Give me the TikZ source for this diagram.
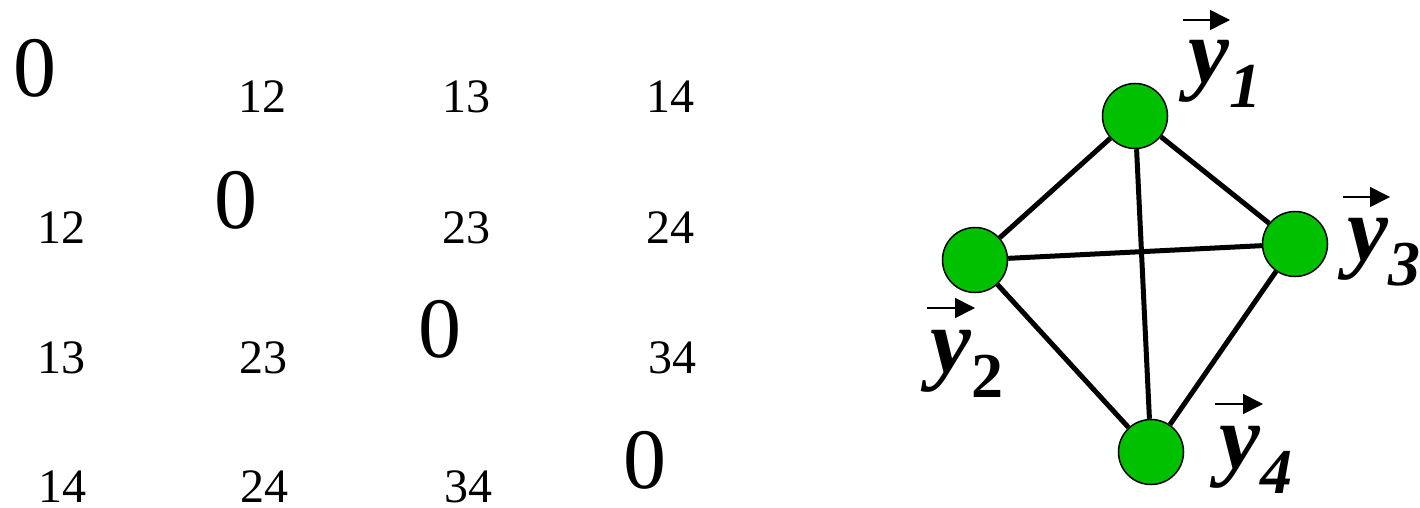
\documentclass[tikz,border=0pt]{standalone}
\usepackage{fontspec}
\setmainfont{Liberation Serif}
\usetikzlibrary{arrows.meta}
\definecolor{nodegreen}{HTML}{00C000}
\begin{document}
\begin{tikzpicture}[x=1pt,y=-1pt,
  small/.style={anchor=base,inner sep=0pt,font=\fontsize{48}{48}\selectfont},
  zero/.style={anchor=base,inner sep=0pt,font=\fontsize{86}{86}\selectfont},
  vert/.style={circle,draw=black,line width=1.5pt,fill=nodegreen,minimum size=65pt,inner sep=0pt},
  edge/.style={line width=5pt},
  lbl/.style={anchor=base west,inner sep=0pt,font=\fontsize{92}{92}\selectfont\bfseries\itshape},
  vecarrow/.style={line width=1.6pt,-{Triangle[length=20pt,width=20pt]}}
]
\useasboundingbox (0,0) rectangle (1420,508);
% matrix
\node[zero]  (m11) at (35,97) {0};
\node[small] (m12) at (262.5,113) {12};
\node[small] (m13) at (466.5,113) {13};
\node[small] (m14) at (670,113) {14};
\node[small] (m21) at (61,243) {12};
\node[zero]  (m22) at (236,228) {0};
\node[small] (m23) at (466.5,243) {23};
\node[small] (m24) at (670,243) {24};
\node[small] (m31) at (61,373) {13};
\node[small] (m32) at (263,373) {23};
\node[zero]  (m33) at (440,357) {0};
\node[small] (m34) at (672,373) {34};
\node[small] (m41) at (62,502) {14};
\node[small] (m42) at (264,502) {24};
\node[small] (m43) at (468,502) {34};
\node[zero]  (m44) at (645,488) {0};
% graph
\node[vert] (v1) at (1135,116) {};
\node[vert] (v2) at (975,260) {};
\node[vert] (v3) at (1295,244) {};
\node[vert] (v4) at (1151,452) {};
\draw[edge] (v1) -- (v2);
\draw[edge] (v1) -- (v3);
\draw[edge] (v1) -- (v4);
\draw[edge] (v2) -- (v3);
\draw[edge] (v2) -- (v4);
\draw[edge] (v3) -- (v4);
% labels
\node[lbl] (l1) at (1188,83) {y\raisebox{-25pt}{\fontsize{64}{64}\selectfont 1}};
\node[lbl] (l2) at (930,372) {y\raisebox{-25pt}{\fontsize{64}{64}\selectfont\upshape 2}};
\node[lbl] (l3) at (1347,260) {y\raisebox{-25pt}{\fontsize{64}{64}\selectfont 3}};
\node[lbl] (l4) at (1219,468) {y\raisebox{-25pt}{\fontsize{64}{64}\selectfont 4}};
\draw[vecarrow] ([shift={(-5pt,63pt)}]l1.base west) -- ++(47,0);
\draw[vecarrow] ([shift={(-3pt,64pt)}]l2.base west) -- ++(48,0);
\draw[vecarrow] ([shift={(-4pt,63pt)}]l3.base west) -- ++(47,0);
\draw[vecarrow] ([shift={(-4pt,64pt)}]l4.base west) -- ++(48,0);
\end{tikzpicture}
\end{document}
